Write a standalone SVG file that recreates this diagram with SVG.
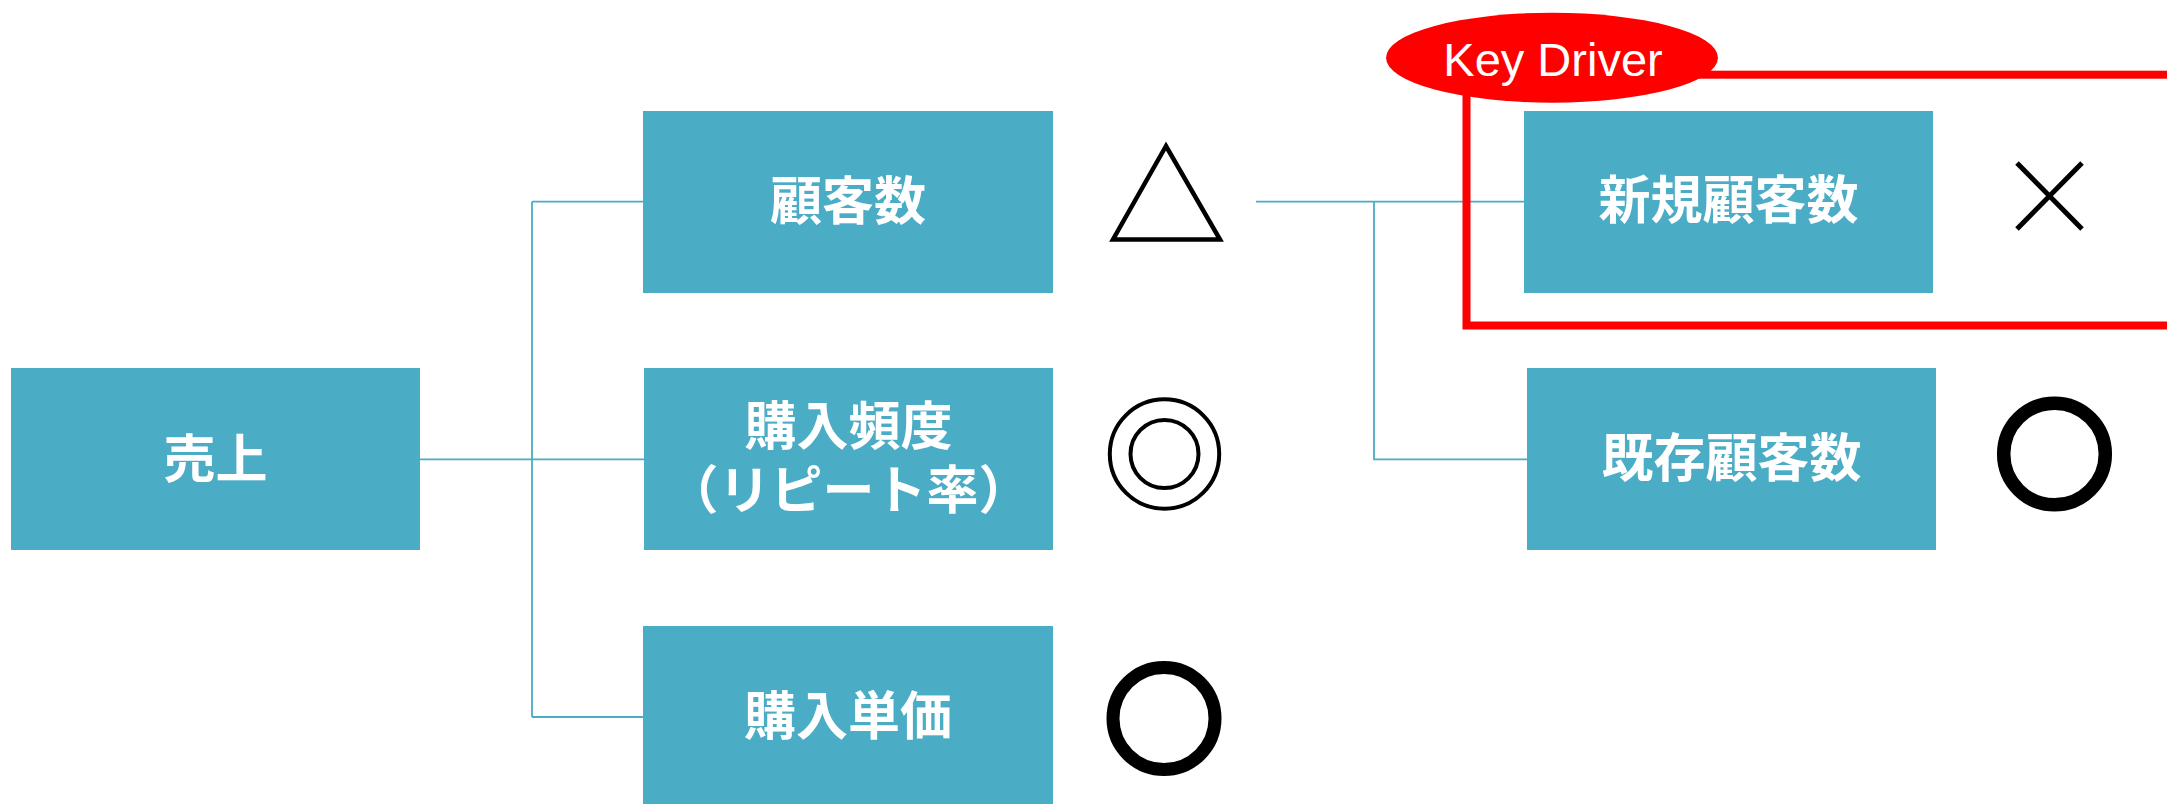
<svg xmlns="http://www.w3.org/2000/svg" width="2167" height="804" viewBox="0 0 2167 804">
  <style>
    .box { fill: #4BACC6; }
    .lbl { fill: #FFFFFF; font-family: "Noto Sans CJK JP", "Noto Sans CJK SC", sans-serif; font-weight: bold; font-size: 52px; text-anchor: middle; }
    .conn { stroke: #4BACC6; stroke-width: 1.8; fill: none; }
    .mark { fill: none; stroke: #000000; }
  </style>
  <rect width="2167" height="804" fill="#FFFFFF"/>
  <g id="connectors">
    <path class="conn" d="M420,459.3 H644 M532,201.7 V717 M532,201.7 H643 M532,717 H643"/>
    <path class="conn" d="M1256,201.7 H1524 M1374,201.7 V459.3 H1527"/>
  </g>
  <g id="node-uriage">
    <rect class="box" x="11" y="368" width="409" height="182"/>
    <text class="lbl" x="215.5" y="478">売上</text>
  </g>
  <g id="node-kokyakusu">
    <rect class="box" x="643" y="111" width="410" height="182"/>
    <text class="lbl" x="848" y="219.5">顧客数</text>
  </g>
  <g id="node-hindo">
    <rect class="box" x="644" y="368" width="409" height="182"/>
    <text class="lbl" x="848.5" y="445">購入頻度<tspan x="848.5" dy="64">（リピート率）</tspan></text>
  </g>
  <g id="node-tanka">
    <rect class="box" x="643" y="626" width="410" height="182"/>
    <text class="lbl" x="848" y="735">購入単価</text>
  </g>
  <g id="node-shinki">
    <rect class="box" x="1524" y="111" width="409" height="182"/>
    <text class="lbl" x="1728.5" y="219">新規顧客数</text>
  </g>
  <g id="node-kizon">
    <rect class="box" x="1527" y="368" width="409" height="182"/>
    <text class="lbl" x="1731.5" y="477">既存顧客数</text>
  </g>
  <g id="mark-triangle">
    <polygon class="mark" stroke-width="4.5" points="1166,146 1113,239.5 1220,239.5"/>
  </g>
  <g id="mark-double-circle">
    <circle class="mark" stroke-width="4" cx="1164.5" cy="454" r="54.7"/>
    <circle class="mark" stroke-width="4" cx="1164.5" cy="454" r="34"/>
  </g>
  <g id="mark-circle-tanka">
    <circle class="mark" stroke-width="13" cx="1164" cy="718.5" r="51"/>
  </g>
  <g id="mark-cross">
    <path class="mark" stroke-width="5" d="M2017,163 L2082,229 M2082,163 L2017,229"/>
  </g>
  <g id="mark-circle-kizon">
    <circle class="mark" stroke-width="13.5" cx="2054.5" cy="454" r="50.8"/>
  </g>
  <g id="key-driver">
    <rect x="1466.5" y="74.7" width="800" height="250.8" fill="none" stroke="#FF0000" stroke-width="8"/>
    <ellipse cx="1552" cy="57.7" rx="166" ry="45" fill="#FF0000"/>
    <text x="1553" y="76" fill="#FFFFFF" font-family="Liberation Sans, Arial, sans-serif" font-size="47" text-anchor="middle">Key Driver</text>
  </g>
</svg>
